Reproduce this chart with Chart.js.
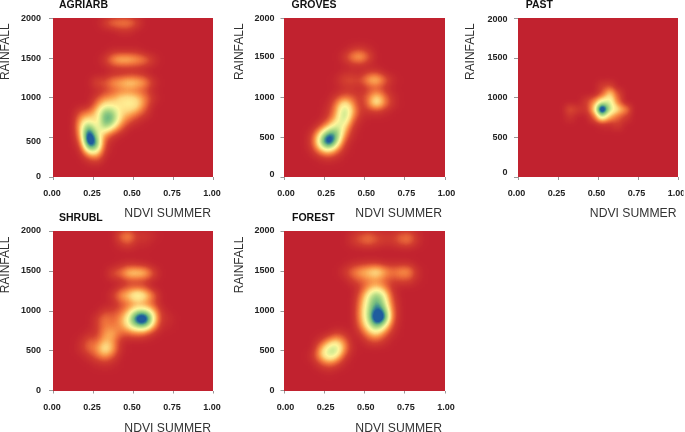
<!DOCTYPE html>
<html><head><meta charset="utf-8">
<style>html,body{margin:0;padding:0;background:#fff;overflow:hidden}
#w{position:relative;width:685px;height:432px}
canvas{position:absolute}</style>
<script src="https://cdn.jsdelivr.net/npm/chart.js@4"></script></head>
<body><div id="w"></div>
<script>
const xTickLabels=['0.00','0.25','0.50','0.75','1.00'];
const yTickLabels=['0','500','1000','1500','2000'];
const ndviBins=[.025,.075,.125,.175,.225,.275,.325,.375,.425,.475,.525,.575,.625,.675,.725,.775,.825,.875,.925,.975];
const rainfallBins=[2050,1950,1850,1750,1650,1550,1450,1350,1250,1150,1050,950,850,750,650,550,450,350,250,150,50];
const agriarb=[
[0,0,0,0,0,0,10,22,26,26,12],
[0,0,0,0,0,0,0,0,6,6],
[],[],
[0,0,0,0,0,0,0,5,5,5,5],
[0,0,0,0,0,0,8,28,38,36,30,22,8],
[0,0,0,0,0,0,0,5,5,5,5],
[0,0,0,0,0,0,0,5,6,8,8,5],
[0,0,0,0,0,15,14,28,32,40,36,28,8],
[0,0,0,0,0,0,6,12,16,18,14,10],
[0,0,0,0,0,10,22,26,36,38,34,22,8],
[0,0,0,0,0,22,40,38,38,42,40,20],
[0,0,0,14,20,34,66,60,34,32,24,10],
[0,0,0,30,40,30,72,66,32,16,6],
[0,0,0,36,72,34,60,40,16],
[0,0,0,28,100,50,22,8],
[0,0,0,14,100,72,10],
[0,0,0,4,52,52,6],
[0,0,0,0,10,18],
[],[]];
const groves=[
[],[],[],[],
[0,0,0,0,0,0,0,0,5,8,3],
[0,0,0,0,0,0,0,8,26,34,14],
[0,0,0,0,0,0,0,0,5,6],
[0,0,0,0,0,0,0,3,3,0,8,8],
[0,0,0,0,0,0,3,14,14,12,32,40,20,4],
[0,0,0,0,0,0,0,4,5,0,8,10,4],
[0,0,0,0,0,0,6,12,10,8,16,34,16,4],
[0,0,0,0,0,2,20,44,24,0,22,50,24,6],
[0,0,0,0,0,6,26,60,32,8,6,8,4],
[0,0,0,0,0,10,32,60,20,3],
[0,0,0,0,10,32,52,40,8],
[0,0,0,8,42,76,70,26,3],
[0,0,0,12,56,100,60,10],
[0,0,0,6,30,46,24,3],
[0,0,0,0,4,8,4],
[],[]];
const past=[
[],[],[],[],[],[],[],[],
[],
[0,0,0,0,0,0,0,0,0,0,8,10],
[0,0,0,0,0,0,0,0,0,0,12,34,12],
[0,0,0,0,0,0,0,0,8,22,44,48,18],
[0,0,0,0,0,0,14,8,6,32,100,52,36,22],
[0,0,0,0,0,0,6,0,0,14,48,28,16,8],
[0,0,0,0,0,0,0,0,0,0,3,4,8],
[],[],[],[],[],[]];
const shrubl=[
[0,0,0,0,0,0,0,0,20,30,8,10,4],
[0,0,0,0,0,0,0,0,8,14,3,4],
[],[],
[0,0,0,0,0,0,0,0,4,8,6,4],
[0,0,0,0,0,0,0,14,20,40,42,38,14],
[0,0,0,0,0,0,0,0,0,8,8,6],
[0,0,0,0,0,0,0,0,8,14,16,12],
[0,0,0,0,0,0,0,8,28,36,56,44,22],
[0,0,0,0,0,0,0,0,10,16,22,18,10],
[0,0,0,0,0,0,8,10,14,30,50,52,34,6],
[0,0,0,0,0,8,22,14,26,46,90,100,50,8,5],
[0,0,0,0,0,8,20,18,22,42,60,66,34,4,2],
[0,0,0,0,4,6,26,30,16,14,18,14,4],
[0,0,0,4,16,14,30,24,4],
[0,0,0,6,18,24,46,30,3],
[0,0,0,0,6,16,26,14],
[0,0,0,0,0,3,6,3],
[],[],[]];
const forest=[
[0,0,0,0,0,0,0,0,6,12,18,10,8,8,16,20,6],
[0,0,0,0,0,0,0,0,8,14,20,12,8,8,16,20,6],
[],[],
[0,0,0,0,0,0,0,0,4,6,8,8,4,4,4,4],
[0,0,0,0,0,0,0,8,20,30,36,46,30,20,28,28,6],
[0,0,0,0,0,0,0,0,10,16,20,22,14,10,12,12,3],
[0,0,0,0,0,0,0,0,0,8,22,30,20,4],
[0,0,0,0,0,0,0,0,0,16,44,64,44,8],
[0,0,0,0,0,0,0,0,0,22,50,70,50,12],
[0,0,0,0,0,0,0,0,0,26,54,80,66,16],
[0,0,0,0,0,0,0,0,0,26,54,100,84,16],
[0,0,0,0,0,0,0,0,0,20,46,70,48,10],
[0,0,0,0,0,0,8,4,0,8,28,40,20,4],
[0,0,0,0,6,22,34,18,0,0,10,14,6],
[0,0,0,0,26,50,58,26,3],
[0,0,0,6,30,54,44,10],
[0,0,0,0,10,20,12,2],
[0,0,0,0,0,3],
[],[]];
const panels=[
 {name:'AGRIARB',grid:agriarb,left:0,top:0,area:[53,213],yMax:2105,blur:4.5,yShift:[0,4,0,0,0],xDx:-1,xDy:0,padY:8,titleDx:6,yt:[5.3,-46],xt:[-2,2]},
 {name:'GROVES',grid:groves,left:230,top:0,area:[54.5,215],yMax:2050,blur:4.5,yShift:[-2.7,0,0,-2,0],xDx:1.5,xDy:0,padY:6,titleDx:7,yt:[9.3,-46],xt:[-3,2]},
 {name:'PAST',grid:past,left:455,top:0,area:[63,223],yMax:2000,blur:3.3,yShift:[-4,0,0,-1,1],xDx:-1.5,xDy:0,padY:6.5,titleDx:7.7,yt:[16,-46],xt:[-1.5,2]},
 {name:'SHRUBL',grid:shrubl,left:0,top:213,area:[53,213],yMax:2105,blur:4.5,yShift:[0,0,0,-1,-1],xDx:-1,xDy:0,padY:8,titleDx:6,yt:[5.3,-46],xt:[-2,4]},
 {name:'FOREST',grid:forest,left:230,top:213,area:[54.5,215],yMax:2080,blur:4.5,yShift:[0,0,0,-1,-1],xDx:1,xDy:0,padY:6,titleDx:7.5,yt:[9.3,-46],xt:[-3,4]}
];
const rampStops=[[0,'#C1222F'],[.12,'#D13C2F'],[.25,'#F0743C'],[.35,'#FBA552'],[.45,'#FDD77F'],[.55,'#FFF59A'],[.62,'#E2F097'],[.72,'#B5DC85'],[.85,'#78BE7E'],[.93,'#3F8F8F'],[1,'#1F5C9E']];
const GAIN=1.35, W=230, H=219, FONT='"Liberation Sans",Arial,sans-serif';
const hex=h=>[1,3,5].map(i=>parseInt(h.substr(i,2),16));
const lut=[];
for(let i=0;i<256;i++){
 const t=Math.min(1,i/255*GAIN);let k=0;
 while(k<rampStops.length-2&&t>rampStops[k+1][0])k++;
 const [a,ca]=rampStops[k],[b,cb]=rampStops[k+1];const f=(t-a)/(b-a);
 const A=hex(ca),B=hex(cb);lut.push(A.map((v,j)=>Math.round(v+(B[j]-v)*f)));
}
const shade=v=>{const g=Math.round(v*2.55);return `rgb(${g},${g},${g})`};
const heatPlugin={id:'heat',
 afterLayout(c){const p=c.options.plugins.heat;c.titleBlock.left=c.chartArea.left+p.titleDx;},
 beforeDatasetsDraw(c){const a=c.chartArea,x=c.ctx;x.save();x.fillStyle='#000';x.fillRect(a.left,a.top,a.width,a.height);x.restore();},
 afterDatasetsDraw(c){
  const a=c.chartArea,ctx=c.ctx,p=c.options.plugins.heat;
  const L=Math.floor(a.left),T=Math.floor(a.top),w=Math.ceil(a.right)-L,h=Math.ceil(a.bottom)-T;
  const off=document.createElement('canvas');off.width=w;off.height=h;const o=off.getContext('2d');
  o.fillStyle='#000';o.fillRect(0,0,w,h);o.filter=`blur(${p.blur}px)`;
  o.drawImage(c.canvas,L,T,w,h,0,0,w,h);
  const img=o.getImageData(0,0,w,h),d=img.data;
  for(let i=0;i<d.length;i+=4){const m=lut[d[i]];d[i]=m[0];d[i+1]=m[1];d[i+2]=m[2];d[i+3]=255;}
  ctx.putImageData(img,L,T);
 }};
function shiftDraw(s,method,dx,dy){const orig=s[method];s[method]=function(...args){const x=this.ctx;x.save();x.translate(dx,dy);orig.apply(this,args);x.restore();};}
panels.forEach(P=>{
 const cv=document.createElement('canvas');cv.width=W;cv.height=H;cv.style.cssText=`left:${P.left}px;top:${P.top}px;width:${W}px;height:${H}px`;
 document.getElementById('w').appendChild(cv);
 const cells=[];
 P.grid.forEach((row,r)=>row.forEach((v,i)=>{if(v>0)cells.push({x:ndviBins[i],y:rainfallBins[r],d:v});}));
 const tick={color:'#222',font:{family:FONT,size:9,weight:'bold'},maxRotation:0,autoSkip:false,includeBounds:false};
 const axisTitle={display:true,color:'#333',font:{family:FONT,size:12.2,weight:'normal'},padding:0};
 new Chart(cv,{type:'scatter',
  data:{datasets:[{data:cells,pointStyle:'rect',borderWidth:0,
    backgroundColor:c=>shade(c.raw?c.raw.d:0),
    pointRadius:c=>{const s=c.chart.scales.x;return (s.getPixelForValue(.05)-s.getPixelForValue(0))/2/Math.SQRT1_2+.3;}}]},
  plugins:[heatPlugin],
  options:{responsive:false,animation:false,events:[],
   layout:{padding:{left:0,top:0,bottom:0,right:W-P.area[1]}},
   plugins:{legend:{display:false},tooltip:{enabled:false},
    title:{display:true,text:P.name,align:'start',color:'#111',font:{family:FONT,size:10.5,weight:'bold',lineHeight:1},padding:{top:0,bottom:8}},
    heat:{blur:P.blur,titleDx:P.titleDx}},
   scales:{
    x:{type:'linear',min:0,max:1,
     ticks:{...tick,stepSize:.25,padding:8.5,callback:(v,i)=>xTickLabels[i]},
     grid:{drawOnChartArea:false,drawTicks:true,tickLength:3,color:'#999'},border:{display:false},
     title:{...axisTitle,text:'NDVI SUMMER',align:'end'},
     afterFit(s){s.height=H-(P.top?177.5:177);s.paddingLeft=0;s.paddingRight=0;
      if(!s._sh){s._sh=1;shiftDraw(s,'drawLabels',P.xDx,P.xDy);shiftDraw(s,'drawTitle',P.xt[0],P.xt[1]);}}},
    y:{type:'linear',bounds:'data',min:0,max:P.yMax,
     ticks:{...tick,stepSize:500,padding:P.padY,callback:(v,i)=>yTickLabels[i]},
     grid:{drawOnChartArea:false,drawTicks:true,tickLength:4,color:'#999'},border:{display:false},
     title:{...axisTitle,text:'RAINFALL',font:{family:FONT,size:12,weight:'normal'}},
     afterFit(s){s.width=P.area[0];s.paddingTop=0;s.paddingBottom=0;
      if(!s._sh){s._sh=1;shiftDraw(s,'drawTitle',P.yt[0]-7.2,P.yt[1]);
       const orig=s.drawLabels;s.drawLabels=function(a){
        this.getLabelItems(a).forEach((it,i)=>{if(!it._m){it._m=1;it.options.translation[1]+=P.yShift[i]||0;}});
        orig.call(this,a);};}}}
   }}});
});
</script></body></html>
